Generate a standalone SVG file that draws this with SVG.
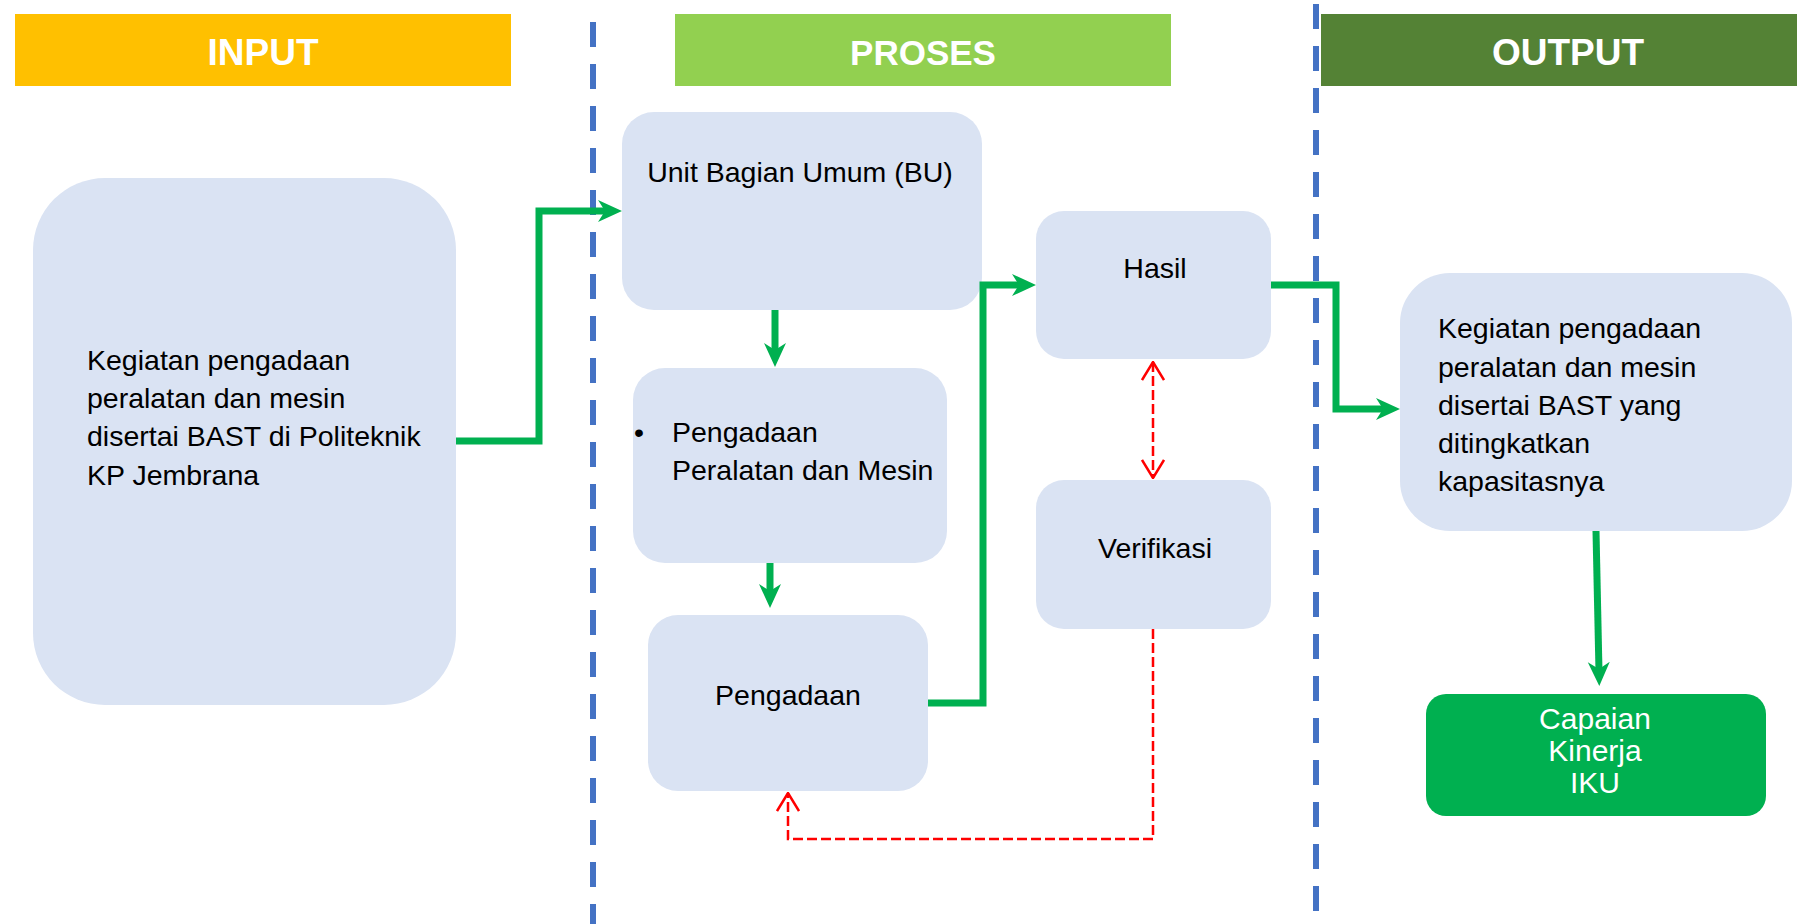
<svg xmlns="http://www.w3.org/2000/svg" width="1797" height="924" viewBox="0 0 1797 924">
<style>
.hdr{font-family:"Liberation Sans",Arial,sans-serif;font-weight:bold;fill:#fff;text-anchor:middle}
.box{fill:#DAE3F3}
.t{font-family:"Liberation Sans",Arial,sans-serif;font-size:28.5px;fill:#000}
.c{text-anchor:middle}
.w{font-family:"Liberation Sans",Arial,sans-serif;font-size:30px;fill:#fff;text-anchor:middle}
.g{fill:none;stroke:#00B050;stroke-width:7;stroke-linejoin:miter}
.r{fill:none;stroke:#FF0000;stroke-width:2.5;stroke-dasharray:10 4}
.sep{stroke:#4472C4;stroke-width:6;stroke-dasharray:25 17}
</style>
<defs>
<marker id="ga" markerUnits="userSpaceOnUse" viewBox="0 0 24 24" markerWidth="24" markerHeight="24" refX="10" refY="12" orient="auto">
<path d="M0,1 L24,12 L0,23 L7,12 Z" fill="#00B050"/>
</marker>
<marker id="ra" markerUnits="userSpaceOnUse" viewBox="0 0 20 24" markerWidth="20" markerHeight="24" refX="19" refY="12" orient="auto-start-reverse">
<path d="M1,1 L19,12 L1,23" fill="none" stroke="#FF0000" stroke-width="2.5"/>
</marker>
</defs>
<rect width="1797" height="924" fill="#fff"/>

<g id="headers">
<rect x="15" y="14" width="496" height="72" fill="#FFC000"/>
<text class="hdr" x="263" y="65" font-size="37">INPUT</text>
<rect x="675" y="14" width="496" height="72" fill="#92D050"/>
<text class="hdr" x="923" y="65" font-size="35">PROSES</text>
<rect x="1321" y="14" width="476" height="72" fill="#548235"/>
<text class="hdr" x="1568" y="65" font-size="37">OUTPUT</text>
</g>

<g id="separators">
<line class="sep" x1="593" y1="22" x2="593" y2="924"/>
<line class="sep" x1="1316" y1="4" x2="1316" y2="912"/>
</g>

<g id="input-box">
<rect class="box" x="33" y="178" width="423" height="527" rx="72" ry="72"/>
<text class="t" x="87" y="370">Kegiatan pengadaan</text>
<text class="t" x="87" y="408">peralatan dan mesin</text>
<text class="t" x="87" y="446">disertai BAST di Politeknik</text>
<text class="t" x="87" y="485">KP Jembrana</text>
</g>

<g id="unit-bu">
<rect class="box" x="622" y="112" width="360" height="198" rx="32" ry="32"/>
<text class="t c" x="800" y="182">Unit Bagian Umum (BU)</text>
</g>

<g id="pengadaan-peralatan">
<rect class="box" x="633" y="368" width="314" height="195" rx="32" ry="32"/>
<text class="t" x="634" y="442">•</text>
<text class="t" x="672" y="442">Pengadaan</text>
<text class="t" x="672" y="480">Peralatan dan Mesin</text>
</g>

<g id="pengadaan">
<rect class="box" x="648" y="615" width="280" height="176" rx="30" ry="30"/>
<text class="t c" x="788" y="705">Pengadaan</text>
</g>

<g id="hasil">
<rect class="box" x="1036" y="211" width="235" height="148" rx="28" ry="28"/>
<text class="t c" x="1155" y="278">Hasil</text>
</g>

<g id="verifikasi">
<rect class="box" x="1036" y="480" width="235" height="149" rx="28" ry="28"/>
<text class="t c" x="1155" y="558">Verifikasi</text>
</g>

<g id="output-box">
<rect class="box" x="1400" y="273" width="392" height="258" rx="50" ry="50"/>
<text class="t" x="1438" y="338">Kegiatan pengadaan</text>
<text class="t" x="1438" y="377">peralatan dan mesin</text>
<text class="t" x="1438" y="415">disertai BAST yang</text>
<text class="t" x="1438" y="453">ditingkatkan</text>
<text class="t" x="1438" y="491">kapasitasnya</text>
</g>

<g id="capaian">
<rect x="1426" y="694" width="340" height="122" rx="20" ry="20" fill="#00B050"/>
<text class="w" x="1595" y="729">Capaian</text>
<text class="w" x="1595" y="761">Kinerja</text>
<text class="w" x="1595" y="793">IKU</text>
</g>

<g id="connectors">
<path class="g" d="M456,441 H539 V211 H608" marker-end="url(#ga)"/>
<path class="g" d="M775,310 V353" marker-end="url(#ga)"/>
<path class="g" d="M770,563 V594" marker-end="url(#ga)"/>
<path class="g" d="M928,703 H983 V285 H1022" marker-end="url(#ga)"/>
<path class="g" d="M1271,285 H1336 V409 H1386" marker-end="url(#ga)"/>
<path class="g" d="M1596,531 L1599,672" marker-end="url(#ga)"/>
<path class="r" d="M1153,362 V478" marker-start="url(#ra)" marker-end="url(#ra)"/>
<path class="r" d="M1153,629 V839 H788 V793" marker-end="url(#ra)"/>
</g>
</svg>
